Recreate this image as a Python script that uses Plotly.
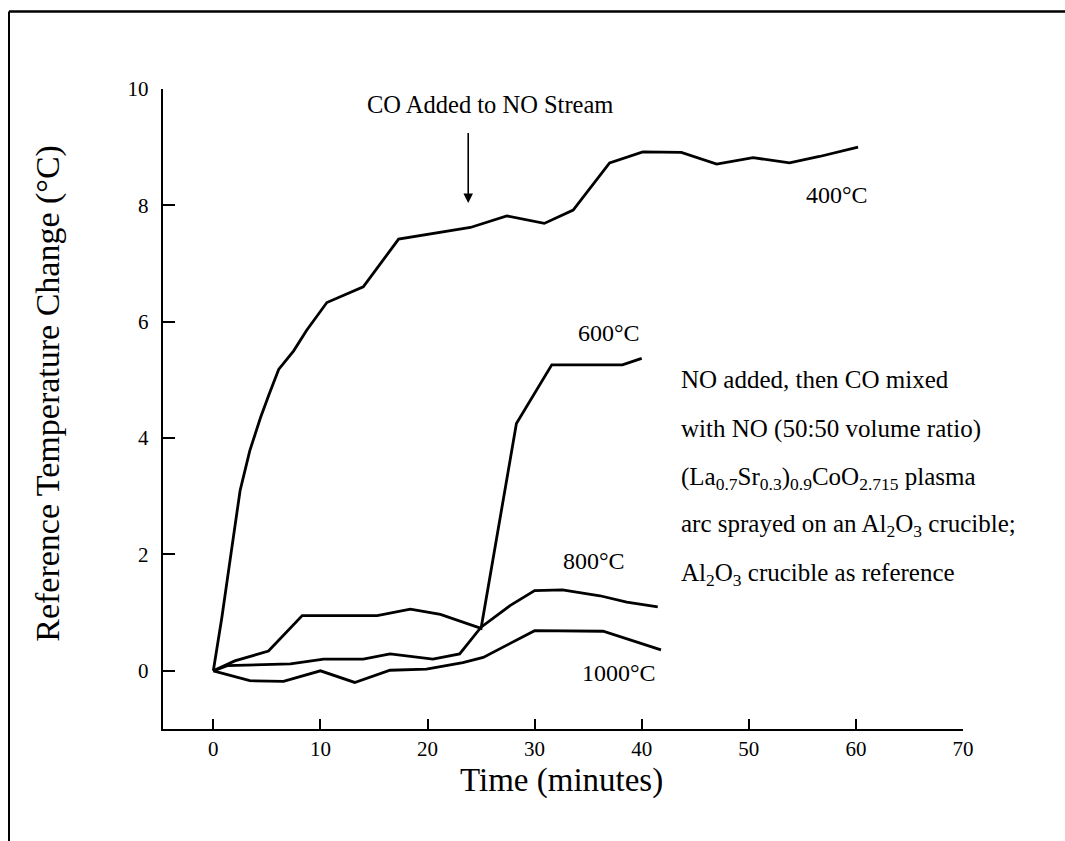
import plotly.graph_objects as go

# ---- data ----
t400 = [0, 0.8, 1.6, 2.5, 3.4, 4.4, 5.2, 6.1, 7.5, 8.7, 10.6, 14.0, 17.3, 20.5, 24.0, 27.4, 30.9,
        33.6, 37.0, 40.1, 43.7, 47.0, 50.4, 53.8, 56.6, 60.2]
v400 = [0, 0.92, 1.95, 3.1, 3.78, 4.35, 4.75, 5.18, 5.5, 5.85, 6.33, 6.6, 7.42, 7.52, 7.62, 7.82, 7.69,
        7.92, 8.73, 8.92, 8.91, 8.71, 8.82, 8.73, 8.84, 9.0]

t600 = [0, 2.0, 5.15, 8.3, 15.3, 18.4, 21.2, 25.0, 28.3, 31.6, 38.2, 40.0]
v600 = [0, 0.17, 0.34, 0.95, 0.95, 1.06, 0.97, 0.73, 4.25, 5.26, 5.26, 5.37]

t800 = [0, 1.3, 7.2, 10.3, 14.0, 16.5, 20.5, 23.0, 25.0, 27.7, 30.0, 32.6, 36.1, 38.6, 41.5]
v800 = [0, 0.09, 0.12, 0.2, 0.2, 0.29, 0.2, 0.29, 0.75, 1.12, 1.38, 1.39, 1.29, 1.18, 1.1]

t1000 = [0, 3.4, 6.55, 10.0, 13.2, 16.5, 19.9, 23.3, 25.2, 27.4, 30.0, 36.4, 38.6, 41.8]
v1000 = [0, -0.17, -0.18, 0.0, -0.2, 0.01, 0.03, 0.14, 0.23, 0.44, 0.69, 0.68, 0.55, 0.36]

series_labels = ["400\u00b0C", "600\u00b0C", "800\u00b0C", "1000\u00b0C"]
label_x = [58.2, 36.9, 35.5, 37.9]
label_y = [8.18, 5.81, 1.89, -0.04]

x_ticks = [0, 10, 20, 30, 40, 50, 60, 70]
y_ticks = [0, 2, 4, 6, 8, 10]

note_lines = [
    "NO added, then CO mixed",
    "with NO (50:50 volume ratio)",
    "(La<sub>0.7</sub>Sr<sub>0.3</sub>)<sub>0.9</sub>CoO<sub>2.715</sub> plasma",
    "arc sprayed on an Al<sub>2</sub>O<sub>3</sub> crucible;",
    "Al<sub>2</sub>O<sub>3</sub> crucible as reference",
]
note_x = 43.5
note_y = [5.0, 4.15, 3.3, 2.5, 1.66]

arrow_text = "CO Added to NO Stream"
arrow_x = 23.8
arrow_tip_y = 8.04
arrow_tail_y = 9.27
arrow_text_x = 25.8
arrow_text_y = 9.74

FONT = "Liberation Serif, Times New Roman, serif"

fig = go.Figure()
for t, v in [(t400, v400), (t600, v600), (t800, v800), (t1000, v1000)]:
    fig.add_trace(go.Scatter(x=t, y=v, mode="lines",
                             line=dict(color="black", width=2.8),
                             showlegend=False, hoverinfo="skip"))

annotations = []
for txt, x, y in zip(series_labels, label_x, label_y):
    annotations.append(dict(x=x, y=y, xref="x", yref="y", text=txt, showarrow=False,
                            font=dict(family=FONT, size=24, color="black")))
for txt, y in zip(note_lines, note_y):
    annotations.append(dict(x=note_x, y=y, xref="x", yref="y", text=txt, showarrow=False,
                            xanchor="left", yanchor="middle",
                            font=dict(family=FONT, size=25, color="black")))
annotations.append(dict(x=arrow_text_x, y=arrow_text_y, xref="x", yref="y", text=arrow_text,
                        showarrow=False, font=dict(family=FONT, size=24.5, color="black")))
annotations.append(dict(x=arrow_x, y=arrow_tip_y, xref="x", yref="y", ax=arrow_x, ay=arrow_tail_y,
                        axref="x", ayref="y", text="", showarrow=True, arrowhead=2,
                        arrowsize=1.2, arrowwidth=1.6, arrowcolor="black"))
# axis titles
annotations.append(dict(x=0.498, y=-0.081, xref="paper", yref="paper", text="Time (minutes)",
                        showarrow=False, xanchor="center", yanchor="middle",
                        font=dict(family=FONT, size=33, color="black")))
annotations.append(dict(x=-0.144, y=0.525, xref="paper", yref="paper",
                        text="Reference Temperature Change (\u00b0C)", textangle=-90,
                        showarrow=False, xanchor="center", yanchor="middle",
                        font=dict(family=FONT, size=34, color="black")))

fig.update_layout(
    width=1065, height=841,
    margin=dict(l=163, r=102, t=89, b=112),
    paper_bgcolor="white", plot_bgcolor="white",
    annotations=annotations,
    shapes=[
        dict(type="line", xref="paper", yref="paper", x0=-0.1925, x1=-0.1925, y0=1.121, y1=-0.2,
             line=dict(color="black", width=2)),
        dict(type="line", xref="paper", yref="paper", x0=-0.1925, x1=1.13, y0=1.121, y1=1.121,
             line=dict(color="black", width=2.5)),
    ],
    xaxis=dict(range=[-4.7, 70], tickvals=x_ticks, ticks="inside", ticklen=10, tickwidth=2,
               tickcolor="black", showline=True, linewidth=2.4, linecolor="black",
               showgrid=False, zeroline=False, ticklabelstandoff=0,
               tickfont=dict(family=FONT, size=21, color="black")),
    yaxis=dict(range=[-1, 10], tickvals=y_ticks, ticks="inside", ticklen=12, tickwidth=2,
               tickcolor="black", showline=True, linewidth=2.4, linecolor="black",
               showgrid=False, zeroline=False, ticklabelstandoff=8,
               tickfont=dict(family=FONT, size=21, color="black")),
)

fig.write_html("out.html")
